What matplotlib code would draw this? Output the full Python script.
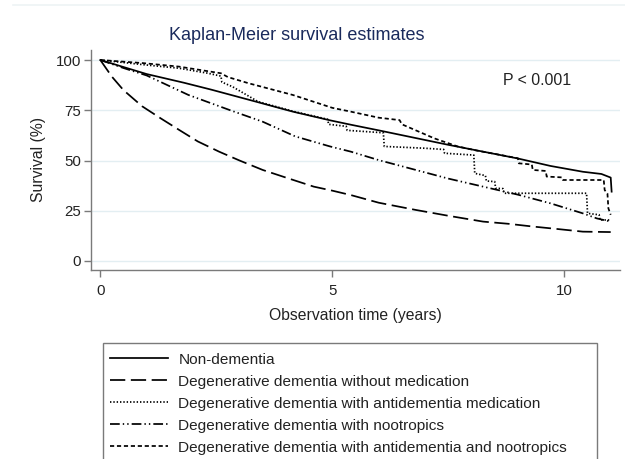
import matplotlib
matplotlib.use("Agg")
import matplotlib.pyplot as plt
from matplotlib.lines import Line2D
from matplotlib.patches import Rectangle

plt.rcParams['font.family'] = ['Liberation Sans', 'DejaVu Sans']
plt.rcParams['lines.scale_dashes'] = False

# ---- data ----
labels = [
    "Non-dementia",
    "Degenerative dementia without medication",
    "Degenerative dementia with antidementia medication",
    "Degenerative dementia with nootropics",
    "Degenerative dementia with antidementia and nootropics",
]

t_non = [0, 0.5, 1, 1.8, 2.4, 3.35, 4.15, 4.95, 5.4, 6.0, 7.5, 9.0, 9.7, 10.4, 10.8, 11.0, 11.02]
v_non = [100, 96.5, 93, 88.7, 85.2, 79.3, 74.3, 70, 67.8, 65, 57.8, 51, 47.3, 44.4, 43.3, 41.5, 34.5]

t_nomed = [0, 0.25, 0.5, 0.9, 1.3, 1.7, 2.1, 2.56, 3.0, 3.5, 4.0, 4.6, 5.0, 5.4, 6.0, 6.8, 7.5,
           8.25, 8.8, 9.3, 9.9, 10.4, 11.0]
v_nomed = [100, 91.7, 85, 77, 71, 65.2, 59.5, 54.4, 50, 45.3, 41.5, 37, 35, 32.8, 29, 25.4, 22.5,
           19.6, 18.5, 17.2, 15.8, 14.6, 14.4]

t_antid = [0, 1.0, 1.7, 2.3, 2.6, 2.62, 2.85, 3.4, 4.15, 4.9, 4.92, 5.3, 5.32, 6.1, 6.12, 7.0,
           7.4, 7.42, 8.05, 8.07, 8.3, 8.32, 8.5, 8.52, 8.68, 8.7, 10.48, 10.5, 10.75, 10.77, 11.0]
v_antid = [100, 97.5, 95.9, 93.5, 92, 89, 86.7, 79.3, 74.5, 70.5, 68, 67, 65, 63.8, 57, 56.1,
           55.5, 53.6, 52.7, 43.6, 42.5, 39.8, 39.5, 36.2, 36, 33.7, 33.7, 23.7, 23, 20.4, 20.4]

t_noot = [0, 0.5, 1, 1.9, 2.8, 3.5, 4.2, 4.95, 5.4, 6.0, 6.8, 7.5, 8.25, 9.0, 9.7, 10.4, 10.7, 11.0]
v_noot = [100, 96, 92.3, 82.6, 75, 69.3, 62, 57, 54.4, 50.2, 45.3, 41, 37, 33, 28.7, 23.7, 21.2, 19.6]

t_both = [0, 0.9, 1.7, 2.6, 2.75, 3.2, 4.15, 5.0, 5.4, 6.0, 6.45, 6.5, 6.7, 7.2, 7.7, 8.1, 8.5,
          9.0, 9.02, 9.3, 9.32, 9.6, 9.62, 9.95, 9.97, 10.85, 10.87, 10.93, 10.95, 11.0]
v_both = [100, 98.5, 96.7, 93.4, 91.5, 88.4, 82.6, 76.2, 74.3, 71.3, 70.1, 68, 66, 61, 57, 55,
          53.3, 51.1, 48.6, 48, 45.3, 44.8, 42, 41.6, 40.3, 40.3, 35.3, 33.5, 26.2, 23]

x_ticks = [0, 5, 10]
y_ticks = [0, 25, 50, 75, 100]

# ---- figure ----
fig = plt.figure(figsize=(6.25, 4.59), dpi=100)
fig.patch.set_facecolor("white")
ax = fig.add_axes([91 / 625, 1 - 270 / 459, (620 - 91) / 625, (270 - 50) / 459])

lw = 1.25
ls_styles = ['-', (0, (11, 4)), (0, (1.0, 1.4)), (0, (7, 2.2, 1, 2.2, 1, 2.2)), (0, (3, 2))]

series = [(t_non, v_non), (t_nomed, v_nomed), (t_antid, v_antid), (t_noot, v_noot), (t_both, v_both)]
for (t, v), ls in zip(series, ls_styles):
    ax.plot(t, v, color='black', lw=lw, ls=ls)

ax.set_xlim((91 - 100.3) / 46.4, (620 - 100.3) / 46.4)
ax.set_ylim((261 - 270) / 2.01, (261 - 50) / 2.01)

ax.set_xticks(x_ticks)
ax.set_yticks(y_ticks)
ax.yaxis.grid(True, color='#e3eef2', lw=1.0)
ax.set_axisbelow(True)
for s in ['top', 'right']:
    ax.spines[s].set_visible(False)
for s in ['left', 'bottom']:
    ax.spines[s].set_color('#7a7a7a')
    ax.spines[s].set_linewidth(1.0)
ax.tick_params(axis='both', colors='#7a7a7a', labelcolor='#222222', labelsize=10.8,
               length=5, width=1.0, direction='out')
ax.tick_params(axis='y', pad=2)
ax.tick_params(axis='x', pad=5)

ax.set_xlabel("Observation time (years)", fontsize=11.3, color='#222222', labelpad=7)
ax.set_ylabel("Survival (%)", fontsize=11.3, color='#222222', labelpad=7)

fig.text(297 / 625, 1 - 35 / 459, "Kaplan-Meier survival estimates", ha='center', va='center',
         fontsize=13, color='#1a2a5c')
ax.text(8.68, 90, "P < 0.001", fontsize=11.4, color='#222222', va='center', ha='left')

# faint outer border line at top
fig.add_artist(Line2D([13 / 625, 1.0], [1 - 5 / 459, 1 - 5 / 459], color='#eef3f5', lw=1.2,
                      transform=fig.transFigure))

# legend box
fig.add_artist(Rectangle((103 / 625, -0.02), (597 - 103) / 625, (1 - 343 / 459) + 0.02,
                         transform=fig.transFigure, fill=False, edgecolor='#7a7a7a', lw=1.0))
handles = [Line2D([], [], color='black', lw=lw, ls=s) for s in ls_styles]
leg = fig.legend(handles, labels, loc='upper left',
                 bbox_to_anchor=(100 / 625, 1 - 343 / 459), bbox_transform=fig.transFigure,
                 frameon=False, fontsize=11.1, handlelength=3.76, handletextpad=0.71,
                 labelspacing=0.52, borderpad=0.62, borderaxespad=0.0)
for txt in leg.get_texts():
    txt.set_color('#222222')

fig.savefig("out.png", dpi=100, facecolor='white')
